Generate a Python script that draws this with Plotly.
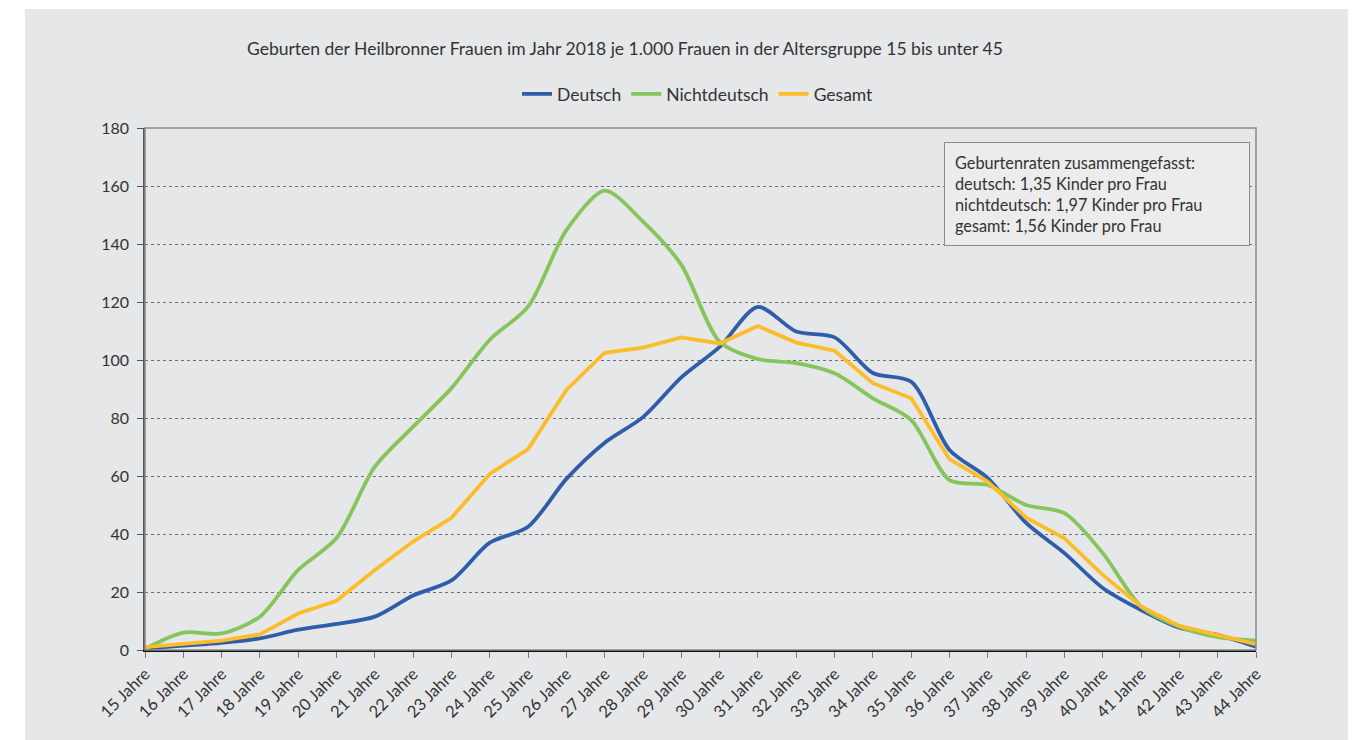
import plotly.graph_objects as go

ages = list(range(15, 45))
tick_labels = [f"{a} Jahre" for a in ages]

deutsch = [0.5, 1.5, 2.5, 4.0, 7.0, 9.0, 11.5, 18.8, 24.0, 37.0, 42.5, 59.0, 71.5, 80.3,
           94.0, 104.5, 118.3, 109.8, 107.8, 95.5, 92.5, 69.0, 59.3, 43.8, 33.4, 21.4,
           13.8, 7.7, 5.2, 1.1]
nichtdeutsch = [0.4, 6.0, 5.7, 11.5, 27.6, 38.6, 63.2, 77.0, 90.3, 107.0, 118.4, 144.8,
                158.4, 147.7, 132.8, 106.3, 100.3, 98.9, 95.4, 86.8, 79.3, 58.6, 56.9,
                50.0, 47.2, 33.4, 15.0, 8.0, 4.4, 3.2]
gesamt = [1.0, 2.0, 3.2, 5.4, 12.6, 17.0, 27.6, 37.4, 45.6, 60.7, 69.3, 89.7, 102.5,
          104.3, 107.8, 105.7, 111.7, 106.0, 103.2, 92.0, 86.8, 65.8, 58.0, 45.6, 38.5,
          25.9, 15.0, 8.3, 5.2, 2.0]

title_text = "Geburten der Heilbronner Frauen im Jahr 2018 je 1.000 Frauen in der Altersgruppe 15 bis unter 45"
box_lines = ["Geburtenraten zusammengefasst:",
             "deutsch: 1,35 Kinder pro Frau",
             "nichtdeutsch: 1,97 Kinder pro Frau",
             "gesamt: 1,56 Kinder pro Frau"]

FONT = "Lato"
BG = "#e6e7e9"
W, H = 1358, 732
L, R, T, B = 137, 110, 120, 90
PW, PH = W - L - R, H - T - B


def px(xf):
    return (xf - L) / PW


def py(yf):
    return (H - B - yf) / PH


fig = go.Figure()
fig.add_trace(go.Scatter(x=ages, y=deutsch, name="Deutsch", mode="lines",
                         line=dict(color="#2f5daa", width=3.8, shape="spline", smoothing=0.8)))
fig.add_trace(go.Scatter(x=ages, y=nichtdeutsch, name="Nichtdeutsch", mode="lines",
                         line=dict(color="#86c45c", width=3.8, shape="spline", smoothing=0.8)))
fig.add_trace(go.Scatter(x=ages, y=gesamt, name="Gesamt", mode="lines",
                         line=dict(color="#fdbd2a", width=3.8)))

fig.update_layout(
    width=W, height=H,
    paper_bgcolor="white", plot_bgcolor=BG,
    margin=dict(l=L, r=R, t=T, b=B),
    font=dict(family=FONT, size=14, color="#333333"),
    showlegend=True,
    legend=dict(orientation="h", x=px(690), xanchor="center", y=py(86), yanchor="middle",
                bgcolor="rgba(0,0,0,0)", font=dict(size=17.5, color="#333333"),
                itemwidth=30, tracegroupgap=0),
    xaxis=dict(range=[15, 44], tickmode="array", tickvals=ages, ticktext=tick_labels,
               tickangle=-45, ticks="outside", ticklen=6, tickcolor="#777777",
               tickfont=dict(size=16.5, color="#333333"),
               showgrid=False, zeroline=False, showline=True, linecolor="#111111",
               linewidth=2),
    yaxis=dict(range=[0, 180], tickvals=list(range(0, 181, 20)), ticks="outside",
               ticklen=6, tickcolor="#555555", tickfont=dict(size=16, color="#333333"),
               ticklabelstandoff=5,
               showgrid=True, gridcolor="#6f6f6f", griddash="dot", gridwidth=1,
               zeroline=False, showline=True, linecolor="#555555", linewidth=1.5),
)

# grey panel background
fig.add_shape(type="rect", xref="paper", yref="paper",
              x0=px(17), x1=px(1340), y0=py(H), y1=py(1),
              fillcolor=BG, line=dict(width=0), layer="below")
# plot area border (top / right)
fig.add_shape(type="rect", xref="paper", yref="paper", x0=0, x1=1, y0=0, y1=1,
              line=dict(color="#8a8a8a", width=1.5), fillcolor="rgba(0,0,0,0)", layer="above")

fig.add_annotation(xref="paper", yref="paper", x=px(617), y=py(40),
                   text=title_text, showarrow=False, xanchor="center", yanchor="middle",
                   font=dict(size=17.5, color="#333333"))

fig.add_annotation(xref="paper", yref="paper", x=px(936), y=py(134),
                   xanchor="left", yanchor="top", align="left", showarrow=False,
                   text="<br>".join(box_lines), font=dict(size=16.3, color="#333333"),
                   bgcolor="#ececec", bordercolor="#8a8a8a", borderwidth=1,
                   borderpad=10, width=284, height=82, valign="middle")

fig.write_html("out.html")
